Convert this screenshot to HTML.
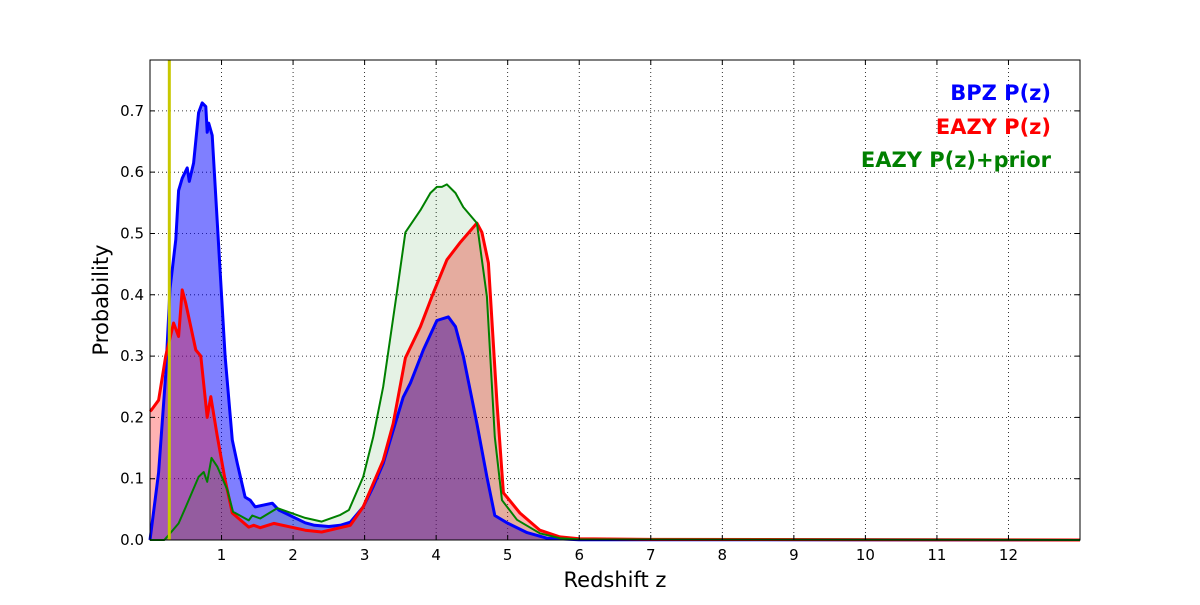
<!DOCTYPE html>
<html><head><meta charset="utf-8"><style>
body{margin:0;background:#fff;}
svg text{font-family:"DejaVu Sans","Liberation Sans",sans-serif;}
</style></head><body>
<svg id="chart" width="1200" height="600" viewBox="0 0 1200 600" xmlns="http://www.w3.org/2000/svg">
<rect width="1200" height="600" fill="#fff"/>
<g id="grid"></g>
<g id="fills"></g>
<g id="lines"></g>
<rect x="150" y="60" width="930" height="480" fill="none" stroke="#000" stroke-width="1"/>
<g id="ticks"></g>
<text x="615" y="587" font-size="21" text-anchor="middle">Redshift z</text>
<text transform="translate(108,300) rotate(-90)" font-size="21" text-anchor="middle">Probability</text>
<g>
<text x="1051" y="100" font-size="21" font-weight="bold" fill="#0000ff" text-anchor="end">BPZ P(z)</text>
<text x="1051" y="134" font-size="21" font-weight="bold" fill="#ff0000" text-anchor="end">EAZY P(z)</text>
<text x="1051" y="167" font-size="21" font-weight="bold" fill="#008000" text-anchor="end">EAZY P(z)+prior</text>
</g>
</svg>
<script>
const xTicks=[1,2,3,4,5,6,7,8,9,10,11,12];
const yTicks=[0.0,0.1,0.2,0.3,0.4,0.5,0.6,0.7];
const specZ=0.27;
const bpzZ=[0,0.12,0.22,0.28,0.36,0.40,0.45,0.52,0.55,0.61,0.68,0.73,0.78,0.80,0.82,0.87,0.94,1.05,1.15,1.22,1.33,1.40,1.47,1.71,1.80,2.17,2.3,2.5,2.66,2.80,2.98,3.12,3.26,3.54,3.64,3.82,4.01,4.17,4.27,4.38,4.57,4.71,4.82,4.99,5.27,5.55,6.0,13];
const bpzP=[0,0.11,0.27,0.41,0.49,0.57,0.59,0.607,0.585,0.615,0.697,0.713,0.707,0.665,0.68,0.66,0.52,0.30,0.163,0.125,0.07,0.065,0.054,0.06,0.049,0.028,0.024,0.022,0.024,0.029,0.054,0.087,0.125,0.233,0.256,0.31,0.358,0.364,0.348,0.30,0.19,0.103,0.04,0.028,0.012,0.003,0.0005,0];
const eazyZ=[0,0.02,0.12,0.22,0.33,0.40,0.45,0.50,0.64,0.71,0.80,0.85,0.94,1.05,1.15,1.38,1.45,1.54,1.73,2.17,2.4,2.66,2.80,2.98,3.26,3.40,3.57,3.78,3.96,4.15,4.34,4.57,4.64,4.73,4.85,4.94,5.17,5.45,5.73,6.0,7.0,13];
const eazyP=[0.21,0.212,0.228,0.30,0.354,0.332,0.408,0.386,0.31,0.30,0.20,0.234,0.17,0.098,0.044,0.021,0.024,0.02,0.027,0.016,0.013,0.02,0.024,0.054,0.13,0.19,0.297,0.348,0.403,0.457,0.486,0.517,0.502,0.452,0.223,0.077,0.044,0.016,0.005,0.002,0.001,0];
const priorZ=[0,0.2,0.26,0.40,0.50,0.68,0.75,0.80,0.86,0.94,1.08,1.16,1.38,1.43,1.54,1.78,2.17,2.4,2.66,2.78,2.98,3.12,3.26,3.45,3.57,3.78,3.92,4.01,4.08,4.15,4.27,4.38,4.57,4.71,4.82,4.92,5.13,5.45,5.73,6.0,13];
const priorP=[0,0,0.008,0.027,0.054,0.103,0.111,0.095,0.134,0.12,0.082,0.046,0.032,0.04,0.035,0.052,0.036,0.03,0.041,0.049,0.103,0.168,0.25,0.403,0.502,0.538,0.566,0.576,0.576,0.58,0.566,0.543,0.517,0.397,0.168,0.065,0.033,0.011,0.003,0.001,0];

const X0=150,X1=1080,Y0=540,Y1=60,ZMAX=13,PMAX=0.783;
const sx=z=>X0+(X1-X0)*z/ZMAX;
const sy=p=>Y0-(Y0-Y1)*p/PMAX;
const NS='http://www.w3.org/2000/svg';
function mk(tag,parent){const e=document.createElementNS(NS,tag);parent.appendChild(e);return e;}
const grid=document.getElementById('grid'),ticks=document.getElementById('ticks');
xTicks.forEach(t=>{
  const l=mk('line',grid);
  
  
  l.setAttribute('x1',sx(t));l.setAttribute('x2',sx(t));l.setAttribute('y1',Y1);l.setAttribute('y2',Y0);
  l.setAttribute('stroke','#000');l.setAttribute('stroke-width','0.8');l.setAttribute('stroke-dasharray','1,3');
  const tk=mk('path',ticks);
  
  
  tk.setAttribute('d',`M${sx(t)},${Y0}v-5M${sx(t)},${Y1}v5`);tk.setAttribute('stroke','#000');
  const tx=mk('text',ticks);
  
  
  tx.setAttribute('x',sx(t));tx.setAttribute('y',Y0+20);tx.setAttribute('font-size','15');tx.setAttribute('text-anchor','middle');
  tx.textContent=t;
});
yTicks.forEach(t=>{
  const l=mk('line',grid);
  
  
  l.setAttribute('x1',X0);l.setAttribute('x2',X1);l.setAttribute('y1',sy(t));l.setAttribute('y2',sy(t));
  l.setAttribute('stroke','#000');l.setAttribute('stroke-width','0.8');l.setAttribute('stroke-dasharray','1,3');
  const tk=mk('path',ticks);
  
  
  tk.setAttribute('d',`M${X0},${sy(t)}h5M${X1},${sy(t)}h-5`);tk.setAttribute('stroke','#000');
  const tx=mk('text',ticks);
  
  
  tx.setAttribute('x',X0-6);tx.setAttribute('y',sy(t)+5);tx.setAttribute('font-size','15');tx.setAttribute('text-anchor','end');
  tx.textContent=t.toFixed(1);
});
const fills=document.getElementById('fills'),lines=document.getElementById('lines');
function series(zs,ps,color,op,w,name){
  const pts=zs.map((z,i)=>sx(z).toFixed(1)+','+sy(ps[i]).toFixed(1));
  const f=mk('polygon',fills);
  
  
  f.setAttribute('points',sx(zs[0])+','+Y0+' '+pts.join(' ')+' '+sx(zs[zs.length-1])+','+Y0);
  f.setAttribute('fill',color);f.setAttribute('fill-opacity',op);
  const l=mk('polyline',lines);
  
  
  l.setAttribute('points',pts.join(' '));
  l.setAttribute('fill','none');l.setAttribute('stroke',color);l.setAttribute('stroke-width',w);l.setAttribute('stroke-linejoin','round');
}
series(bpzZ,bpzP,'#0000ff',0.5,3,'bpz');
series(eazyZ,eazyP,'#ff0000',0.3,3,'eazy');
series(priorZ,priorP,'#008000',0.1,2,'eazy-prior');
const sl=mk('line',lines);


sl.setAttribute('x1',sx(specZ));sl.setAttribute('x2',sx(specZ));sl.setAttribute('y1',Y1);sl.setAttribute('y2',Y0);
sl.setAttribute('stroke','#c8c800');sl.setAttribute('stroke-width','3');
</script>
</body></html>
